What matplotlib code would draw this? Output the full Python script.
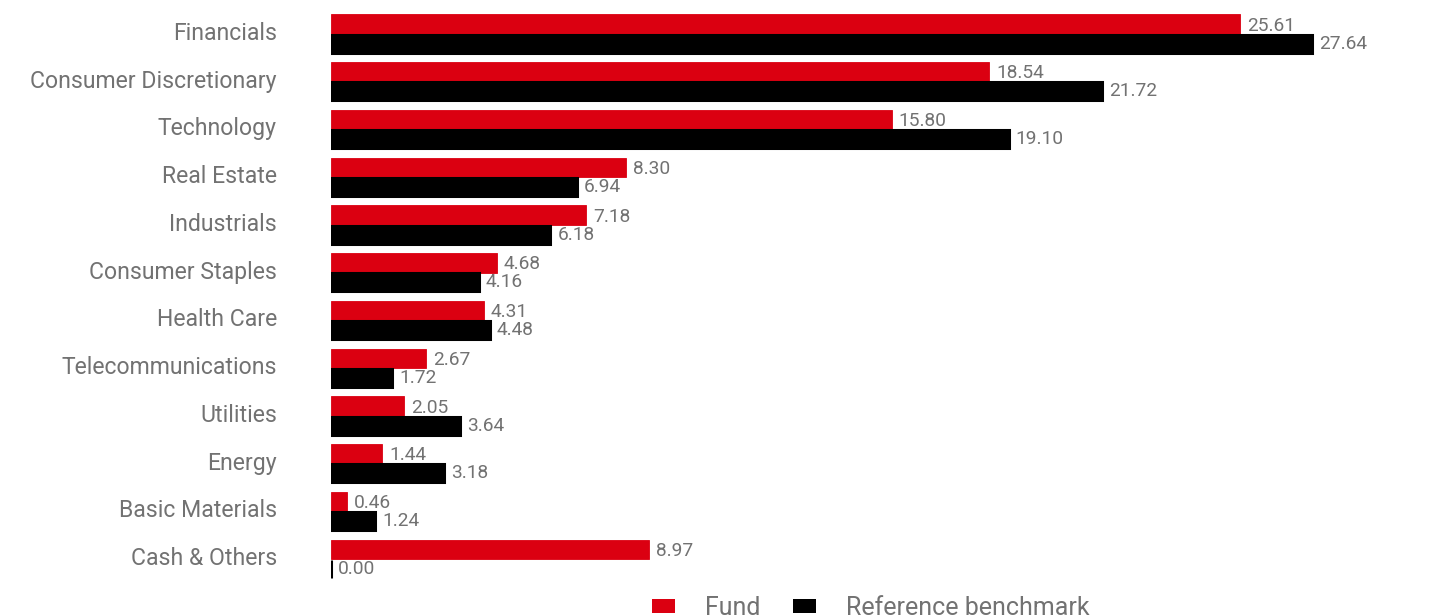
import matplotlib
matplotlib.use("Agg")
import matplotlib.pyplot as plt
import matplotlib.transforms as mtransforms
from matplotlib.patches import Patch
import numpy as np

categories = ["Financials", "Consumer Discretionary", "Technology", "Real Estate",
              "Industrials", "Consumer Staples", "Health Care", "Telecommunications",
              "Utilities", "Energy", "Basic Materials", "Cash & Others"]
fund = [25.61, 18.54, 15.80, 8.30, 7.18, 4.68, 4.31, 2.67, 2.05, 1.44, 0.46, 8.97]
benchmark = [27.64, 21.72, 19.10, 6.94, 6.18, 4.16, 4.48, 1.72, 3.64, 3.18, 1.24, 0.00]
series_names = ["Fund", "Reference benchmark"]

RED = "#DB0011"
BLACK = "#000000"
GRAY = "#727272"

plt.rcParams['font.family'] = ['Roboto', 'DejaVu Sans']

fig = plt.figure(figsize=(14.56, 6.15), dpi=100)
ax = fig.add_axes([331/1456, 1-583/615, 1079/1456, 573/615])

y = np.arange(len(categories))
h = 0.41
ax.barh(y - h/2, fund, height=h, color=RED, edgecolor=RED, linewidth=0.6, zorder=3)
ax.barh(y + h/2, benchmark, height=h - 0.035, color=BLACK, edgecolor=BLACK,
        linewidth=2.2, joinstyle='miter', zorder=3)

for yi, v in zip(y - h/2, fund):
    ax.annotate(f"{v:.2f}", (v, yi + 0.03), xytext=(5, 0), textcoords="offset points",
                va="center", ha="left", fontsize=13.8, color=GRAY, zorder=2)
for yi, v in zip(y + h/2, benchmark):
    ax.annotate(f"{v:.2f}", (v, yi), xytext=(5, 0), textcoords="offset points",
                va="center", ha="left", fontsize=13.8, color=GRAY, zorder=2)

ax.set_xlim(0, 1079/35.49)
ax.set_ylim(len(categories) - 0.5, -0.5)
ax.set_yticks(y)
ax.set_yticklabels(categories, fontsize=16.6, color=GRAY)
ax.tick_params(axis='y', length=0, pad=39)
offset = mtransforms.ScaledTranslation(0, 3/100, fig.dpi_scale_trans)
for lab in ax.get_yticklabels():
    lab.set_transform(lab.get_transform() + offset)
ax.set_xticks([])
for s in ax.spines.values():
    s.set_visible(False)

handles = [Patch(facecolor=RED, edgecolor='none'), Patch(facecolor=BLACK, edgecolor='none')]
leg = fig.legend(handles, series_names, loc='center', bbox_to_anchor=(871/1456, 1-608/615),
                 ncol=2, frameon=False, fontsize=18, handlelength=0.92, handleheight=0.44,
                 handletextpad=1.2, columnspacing=1.32, borderpad=0, borderaxespad=0)
for t in leg.get_texts():
    t.set_color(GRAY)

fig.savefig("out.png", dpi=100)
